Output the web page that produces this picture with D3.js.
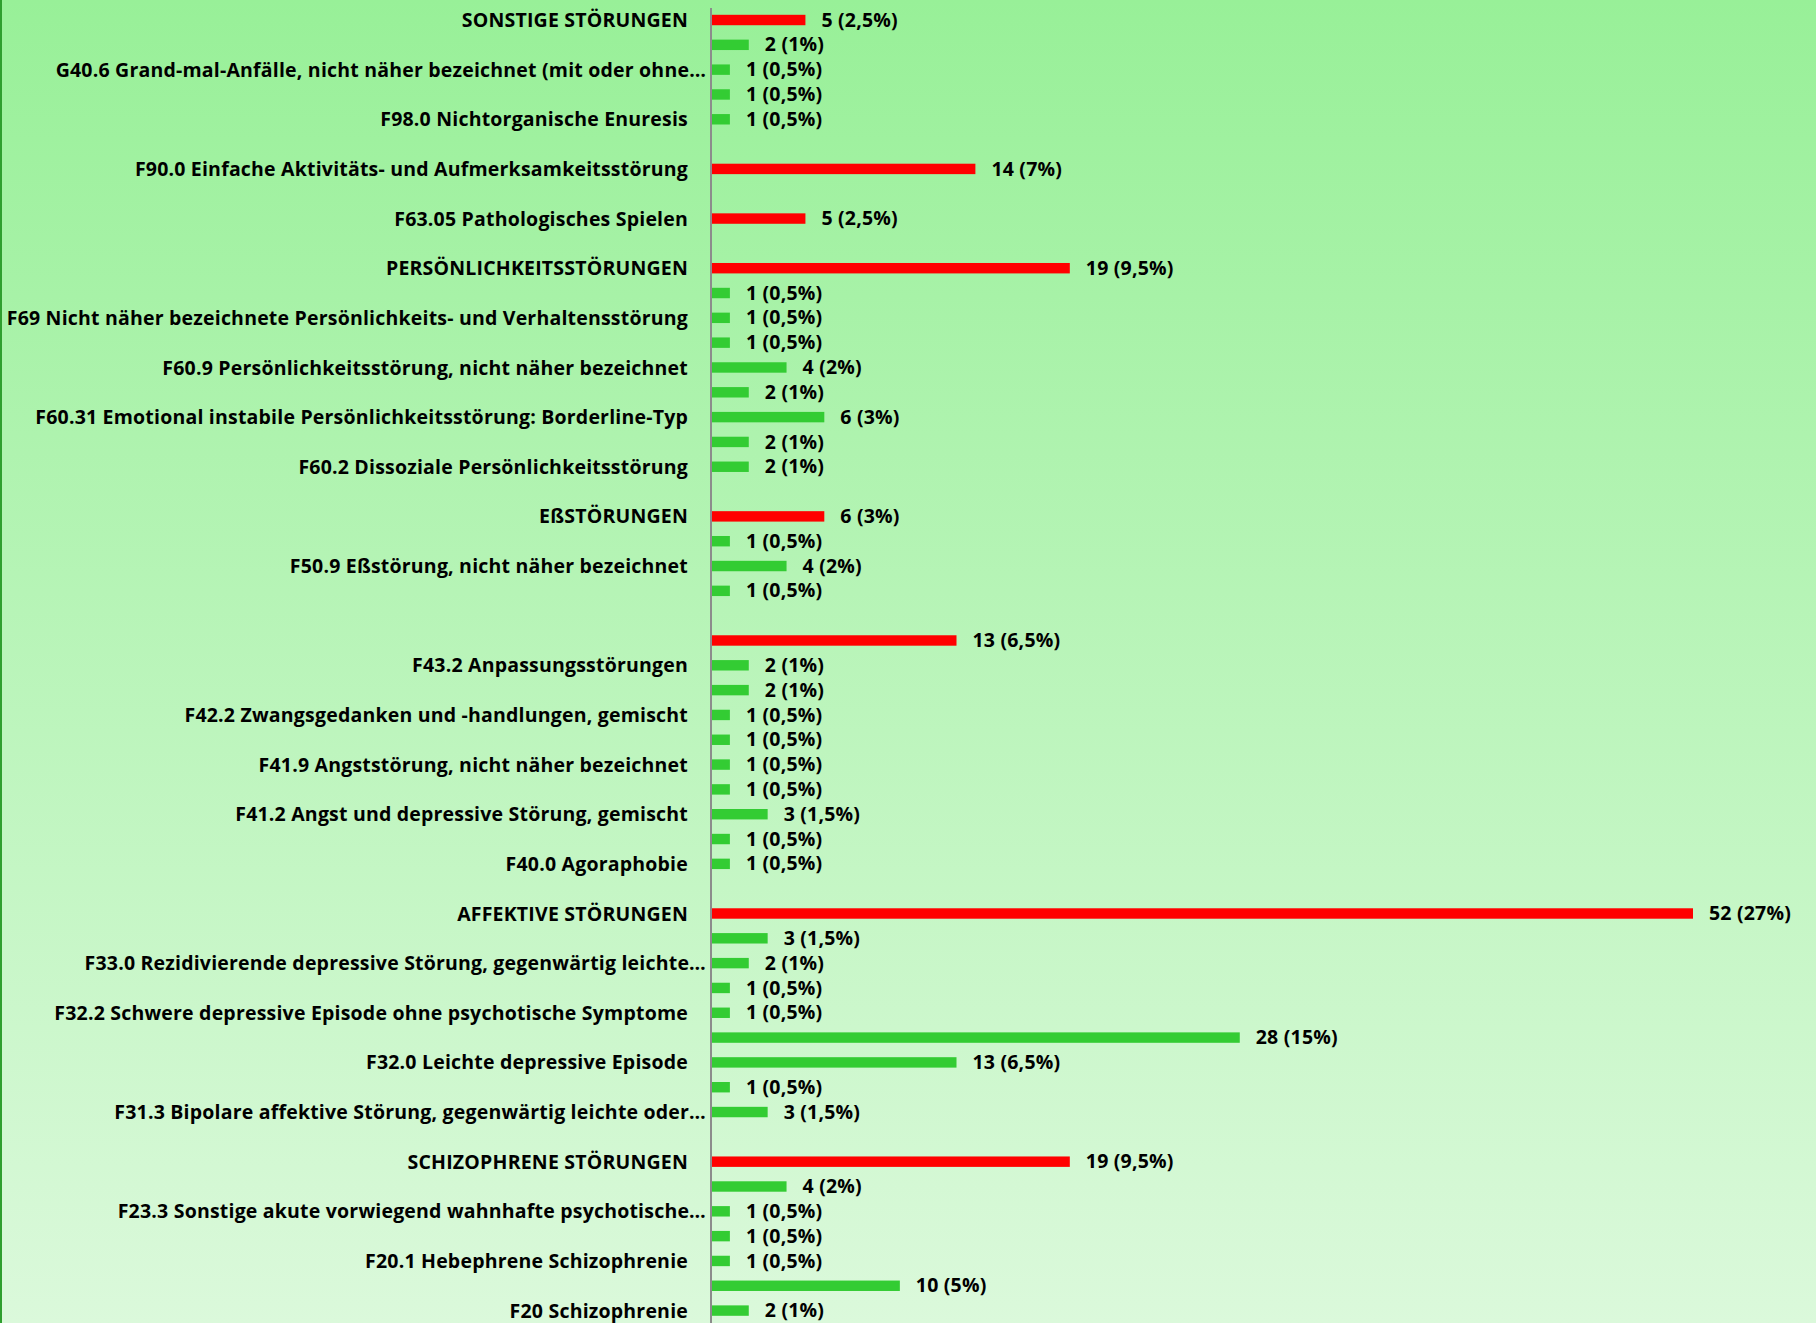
<!DOCTYPE html>
<html lang="de">
<head>
<meta charset="utf-8">
<title>Diagnosen</title>
<script src="https://cdn.jsdelivr.net/npm/d3@7"></script>
<style>
  html, body { margin: 0; padding: 0; background: #fff; }
  svg { display: block; }
  text { font-family: "Open Sans", Lato, "DejaVu Sans", sans-serif; font-weight: 700; fill: #000; letter-spacing: 0.2px; }
</style>
</head>
<body>
<div id="chart"></div>
<script>
// Rows from top to bottom; "" = category without a printed axis label.
const categories = [
  "SONSTIGE STÖRUNGEN", "",
  "G40.6 Grand-mal-Anfälle, nicht näher bezeichnet (mit oder ohne…", "",
  "F98.0 Nichtorganische Enuresis", "",
  "F90.0 Einfache Aktivitäts- und Aufmerksamkeitsstörung", "",
  "F63.05 Pathologisches Spielen", "",
  "PERSÖNLICHKEITSSTÖRUNGEN", "",
  "F69 Nicht näher bezeichnete Persönlichkeits- und Verhaltensstörung", "",
  "F60.9 Persönlichkeitsstörung, nicht näher bezeichnet", "",
  "F60.31 Emotional instabile Persönlichkeitsstörung: Borderline-Typ", "",
  "F60.2 Dissoziale Persönlichkeitsstörung", "",
  "EßSTÖRUNGEN", "",
  "F50.9 Eßstörung, nicht näher bezeichnet", "",
  "", "",
  "F43.2 Anpassungsstörungen", "",
  "F42.2 Zwangsgedanken und -handlungen, gemischt", "",
  "F41.9 Angststörung, nicht näher bezeichnet", "",
  "F41.2 Angst und depressive Störung, gemischt", "",
  "F40.0 Agoraphobie", "",
  "AFFEKTIVE STÖRUNGEN", "",
  "F33.0 Rezidivierende depressive Störung, gegenwärtig leichte…", "",
  "F32.2 Schwere depressive Episode ohne psychotische Symptome", "",
  "F32.0 Leichte depressive Episode", "",
  "F31.3 Bipolare affektive Störung, gegenwärtig leichte oder…", "",
  "SCHIZOPHRENE STÖRUNGEN", "",
  "F23.3 Sonstige akute vorwiegend wahnhafte psychotische…", "",
  "F20.1 Hebephrene Schizophrenie", "",
  "F20 Schizophrenie"
];

// Number of patients per row (null = spacer row without a bar).
const counts = [
  5, 2, 1, 1, 1, null,
  14, null,
  5, null,
  19, 1, 1, 1, 4, 2, 6, 2, 2, null,
  6, 1, 4, 1, null,
  13, 2, 2, 1, 1, 1, 1, 3, 1, 1, null,
  52, 3, 2, 1, 1, 28, 13, 1, 3, null,
  19, 4, 1, 1, 1, 10, 2
];

// Share of all patients as printed next to each bar.
const shares = [
  "2,5%", "1%", "0,5%", "0,5%", "0,5%", null,
  "7%", null,
  "2,5%", null,
  "9,5%", "0,5%", "0,5%", "0,5%", "2%", "1%", "3%", "1%", "1%", null,
  "3%", "0,5%", "2%", "0,5%", null,
  "6,5%", "1%", "1%", "0,5%", "0,5%", "0,5%", "0,5%", "1,5%", "0,5%", "0,5%", null,
  "27%", "1,5%", "1%", "0,5%", "0,5%", "15%", "6,5%", "0,5%", "1,5%", null,
  "9,5%", "2%", "0,5%", "0,5%", "0,5%", "5%", "1%"
];

// Group totals (diagnosis chapters) versus single diagnoses.
const isGroupTotal = [
  true, false, false, false, false, false,
  true, false,
  true, false,
  true, false, false, false, false, false, false, false, false, false,
  true, false, false, false, false,
  true, false, false, false, false, false, false, false, false, false, false,
  true, false, false, false, false, false, false, false, false, false,
  true, false, false, false, false, false, false
];

const rows = categories.map((name, i) => ({
  i, name, value: counts[i], share: shares[i], group: isGroupTotal[i]
}));

const W = 1816, H = 1323;
const axisX = 711;
const FONT_SIZE = 19.5;

const svg = d3.select("#chart").append("svg")
  .attr("width", W).attr("height", H);

// Background: vertical green fade
const defs = svg.append("defs");
const grad = defs.append("linearGradient")
  .attr("id", "bgFade").attr("x1", 0).attr("y1", 0).attr("x2", 0).attr("y2", 1);
grad.append("stop").attr("offset", "0%").attr("stop-color", "#98f098");
grad.append("stop").attr("offset", "100%").attr("stop-color", "#dbf9db");
svg.append("rect").attr("width", W).attr("height", H).attr("fill", "url(#bgFade)");
svg.append("rect").attr("x", 0).attr("y", 0).attr("width", 2).attr("height", H).attr("fill", "#2f9f2f");

const x = d3.scaleLinear().domain([0, 52]).range([axisX, 1693]);
const y = d3.scaleBand()
  .domain(rows.map(d => d.i))
  .range([7.6, H])
  .paddingInner(0.58)
  .paddingOuter(0.29);

// Bars
svg.append("g").selectAll("rect")
  .data(rows.filter(d => d.value != null))
  .join("rect")
  .attr("x", x(0))
  .attr("y", d => y(d.i))
  .attr("width", d => x(d.value) - x(0))
  .attr("height", y.bandwidth())
  .attr("fill", d => d.group ? "#ff0000" : "#33cc33");

// Category axis (vertical line, labels only where a name is printed)
const yAxis = d3.axisLeft(y)
  .tickSize(0)
  .tickPadding(0)
  .tickFormat(i => categories[i]);
const ax = svg.append("g").attr("transform", `translate(${axisX},0)`).call(yAxis);
ax.select(".domain").remove();
ax.selectAll(".tick text")
  .attr("x", function(i) { return categories[i].endsWith("…") ? -5 : -23; })
  .attr("dy", "0.36em")
  .attr("font-size", FONT_SIZE)
  .attr("font-family", null)
  .attr("fill", "#000")
  .attr("text-anchor", "end");
svg.append("line")
  .attr("x1", axisX).attr("x2", axisX)
  .attr("y1", 8).attr("y2", H)
  .attr("stroke", "#8c8c8c").attr("stroke-width", 2);

// Value labels
svg.append("g").selectAll("text")
  .data(rows.filter(d => d.value != null))
  .join("text")
  .attr("x", d => x(d.value) + 16)
  .attr("y", d => y(d.i) + y.bandwidth() / 2)
  .attr("dy", "0.34em")
  .attr("font-size", FONT_SIZE)
  .text(d => `${d.value} (${d.share})`);
</script>
</body>
</html>
